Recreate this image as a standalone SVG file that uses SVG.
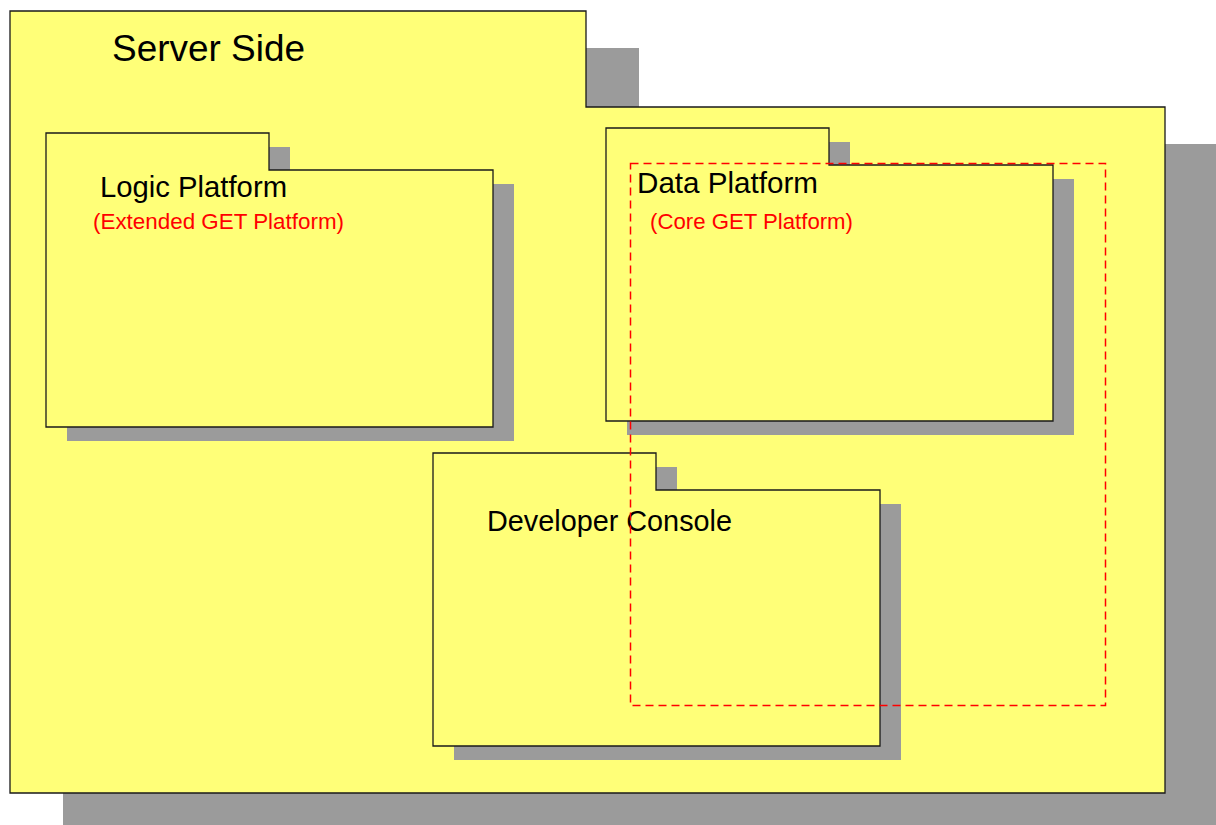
<svg xmlns="http://www.w3.org/2000/svg" width="1216" height="825" viewBox="0 0 1216 825">
  <defs>
    <style>
      .shadow { fill: #9b9b9b; stroke: none; }
      .pkg { fill: #ffff78; stroke: #1a1a1a; stroke-width: 1.3; }
      .title { font-family: "Liberation Sans", Arial, sans-serif; fill: #000000; }
      .sub { font-family: "Liberation Sans", Arial, sans-serif; fill: #ff0000; font-size: 22px; }
      .scope { fill: none; stroke: #ff0000; stroke-width: 1.5; stroke-dasharray: 8 5; }
    </style>
  </defs>
  <rect width="1216" height="825" fill="#ffffff"/>

  <!-- outer package: Server Side -->
  <g id="server-side">
    <path class="shadow" d="M63,48 H639 V144 H1218 V830 H63 Z"/>
    <path class="pkg" d="M10,11 H586 V107 H1165 V793 H10 Z"/>
    <text class="title" x="112" y="61" font-size="37" textLength="193" lengthAdjust="spacingAndGlyphs">Server Side</text>
  </g>

  <g id="logic-platform">
    <path class="shadow" d="M67,147 H290 V184 H514 V441 H67 Z"/>
    <path class="pkg" d="M46,133 H269 V170 H493 V427 H46 Z"/>
    <text class="title" x="100" y="197" font-size="29" textLength="187" lengthAdjust="spacingAndGlyphs">Logic Platform</text>
    <text class="sub" x="93" y="229" textLength="251" lengthAdjust="spacingAndGlyphs">(Extended GET Platform)</text>
  </g>

  <g id="data-platform">
    <path class="shadow" d="M627,142 H850 V179 H1074 V435 H627 Z"/>
    <path class="pkg" d="M606,128 H829 V165 H1053 V421 H606 Z"/>
    <text class="title" x="637" y="193" font-size="29" textLength="181" lengthAdjust="spacingAndGlyphs">Data Platform</text>
    <text class="sub" x="650" y="229" textLength="203" lengthAdjust="spacingAndGlyphs">(Core GET Platform)</text>
  </g>

  <g id="developer-console">
    <path class="shadow" d="M454,467 H677 V504 H901 V760 H454 Z"/>
    <path class="pkg" d="M433,453 H656 V490 H880 V746 H433 Z"/>
    <text class="title" x="487" y="531" font-size="29" textLength="245" lengthAdjust="spacingAndGlyphs">Developer Console</text>
  </g>

  <!-- dashed boundary of the core platform -->
  <g id="connectors">
    <rect class="scope" x="630.5" y="163.5" width="475" height="542"/>
  </g>
</svg>
